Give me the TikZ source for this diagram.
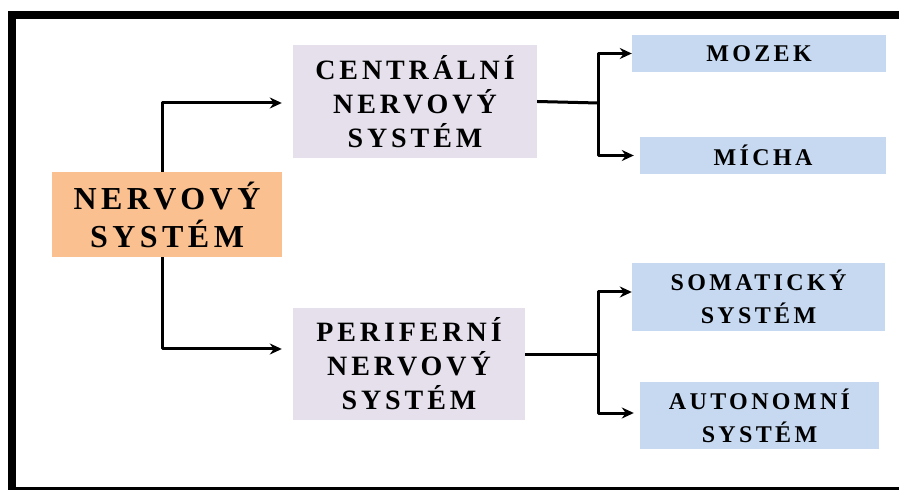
\documentclass[tikz,border=0pt]{standalone}
\usepackage{fontspec}
\usetikzlibrary{arrows.meta}
\setmainfont{Liberation Serif}
\newfontfamily\spaced[LetterSpace=14]{Liberation Serif}
\definecolor{orangebox}{HTML}{FAC090}
\definecolor{lilacbox}{HTML}{E5E0EC}
\definecolor{bluebox}{HTML}{C6D9F1}
\tikzset{
	box/.style={inner sep=0pt, align=center, font=\spaced\bfseries},
	link/.style={line width=3pt, line join=round}
}
\begin{document}
\begin{tikzpicture} [>={Stealth[length=12pt, width=11pt]}, x=1pt, y=1pt]
		\useasboundingbox (0,0) rectangle (899,490);
		\draw[line width=8pt] (899,475) -- (12,475) -- (12,0);
		\draw[line width=3pt] (8,1.5) -- (899,1.5);
		\node[box, fill=orangebox, minimum width=230pt, minimum height=85pt, font=\spaced\bfseries\fontsize{32}{38}\selectfont] (ns) at (167,275.5) {NERVOVÝ\\SYSTÉM};
		\node[box, fill=lilacbox, minimum width=244pt, minimum height=113pt, font=\spaced\bfseries\fontsize{28}{34}\selectfont] (cns) at (415,388.5) {CENTRÁLNÍ\\NERVOVÝ\\SYSTÉM};
		\node[box, fill=lilacbox, minimum width=232pt, minimum height=112pt, font=\spaced\bfseries\fontsize{28}{34}\selectfont] (pns) at (409,126) {PERIFERNÍ\\NERVOVÝ\\SYSTÉM};
		\node[box, fill=bluebox, minimum width=254pt, minimum height=37pt, font=\spaced\bfseries\fontsize{24}{29}\selectfont] (mozek) at (759,436.5) {MOZEK};
		\node[box, fill=bluebox, minimum width=246pt, minimum height=37pt, font=\spaced\bfseries\fontsize{24}{29}\selectfont] (micha) at (763,334.5) {MÍCHA};
		\node[box, fill=bluebox, minimum width=253pt, minimum height=68pt, font=\spaced\bfseries\fontsize{24}{33}\selectfont] (som) at (758.5,193) {SOMATICKÝ\\SYSTÉM};
		\node[box, fill=bluebox, minimum width=239pt, minimum height=67pt, font=\spaced\bfseries\fontsize{24}{33}\selectfont] (aut) at (759.5,74.5) {AUTONOMNÍ\\SYSTÉM};
		\coordinate (jc) at (598,387);
		\coordinate (jp) at (598,135);
		\draw[link, ->] ([xshift=-5pt]ns.north) |- ([xshift=-11pt, yshift=-1.5pt]cns.west);
		\draw[link, ->] ([xshift=-5pt]ns.south) |- ([xshift=-11pt, yshift=15pt]pns.west);
		\draw[link] (cns.east) -- (jc);
		\draw[link, ->] (jc) |- (mozek.west);
		\draw[link, ->] (jc) |- ([xshift=-6pt]micha.west);
		\draw[link] (pns.east |- jp) -- (jp);
		\draw[link, ->] (jp) |- ([yshift=5pt]som.west);
		\draw[link, ->] (jp) |- ([xshift=-6pt, yshift=2.5pt]aut.west);
\end{tikzpicture}
\end{document}
